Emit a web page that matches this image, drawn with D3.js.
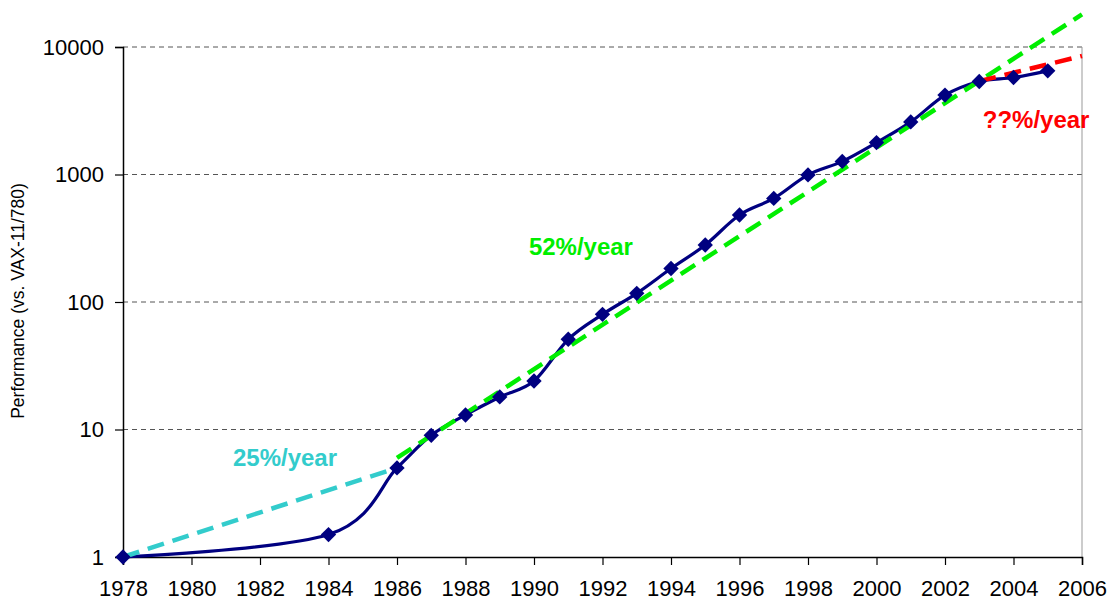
<!DOCTYPE html>
<html>
<head>
<meta charset="utf-8">
<script src="https://cdn.jsdelivr.net/npm/d3@7"></script>
<style>
  body { margin: 0; background: #fff; }
  svg { font-family: "Liberation Sans", Arial, sans-serif; }
  .axis text { font-size: 22px; font-family: "Liberation Sans", Arial, sans-serif; fill: #000; }
</style>
</head>
<body>
<svg id="chart" width="1110" height="603"></svg>
<script>
// performance relative to VAX-11/780
var years = [1978, 1984, 1986, 1987, 1988, 1989, 1990, 1991, 1992, 1993, 1994, 1995,
             1996, 1997, 1998, 1999, 2000, 2001, 2002, 2003, 2004, 2005];
var perf = [1, 1.5, 5, 9, 13, 18, 24, 51, 80, 117, 183, 280,
            481, 649, 993, 1267, 1779, 2584, 4195, 5364, 5764, 6505];

// trend lines: [year, value] end points
var trend25 = [[1978, 1], [1986, 5]];
var trend52 = [[1986, 6], [2006, 18000]];
var trendQQ = [[2003, 5400], [2006, 8500]];

var yTicks = [1, 10, 100, 1000, 10000];
var xTicks = d3.range(1978, 2007, 2);

var svg = d3.select("#chart"),
    margin = {top: 47, right: 28, bottom: 46, left: 123},
    width = +svg.attr("width") - margin.left - margin.right,
    height = +svg.attr("height") - margin.top - margin.bottom;

var x = d3.scaleLinear().domain([1978, 2006]).range([0, width]);
var y = d3.scaleLog().domain([1, 10000]).range([height, 0]);

var g = svg.append("g")
  .attr("transform", "translate(" + margin.left + "," + margin.top + ")");

// grid lines
g.selectAll(".grid")
  .data(yTicks.slice(1))
  .enter().append("line")
  .attr("x1", 0).attr("x2", width)
  .attr("y1", function(d) { return y(d); })
  .attr("y2", function(d) { return y(d); })
  .attr("stroke", "#555")
  .attr("stroke-width", 1)
  .attr("stroke-dasharray", "5,4");

// plot area frame (right side)
g.append("line")
  .attr("x1", width).attr("x2", width)
  .attr("y1", 0).attr("y2", height)
  .attr("stroke", "#999");

// axes
var xAxis = d3.axisBottom(x).tickValues(xTicks).tickFormat(d3.format("d")).tickSizeOuter(0).tickSize(8).tickPadding(15);
var yAxis = d3.axisLeft(y).tickValues(yTicks).tickFormat(d3.format("d")).tickSizeOuter(0).tickSize(8).tickPadding(11);

var gx = g.append("g")
  .attr("class", "axis")
  .attr("transform", "translate(0," + height + ")")
  .call(xAxis);
var gy = g.append("g").attr("class", "axis").call(yAxis);

[gx, gy].forEach(function(a) {
  a.attr("font-size", null).attr("font-family", null);
  a.select(".domain").attr("stroke", "#000").attr("stroke-width", 1.5);
  a.selectAll(".tick line").attr("stroke", "#000").attr("stroke-width", 1.2);
});

// y label
svg.append("text")
  .attr("transform", "translate(24," + 301 + ") rotate(-90)")
  .attr("text-anchor", "middle")
  .style("font-size", "17.5px")
  .attr("fill", "#000")
  .text("Performance (vs. VAX-11/780)");

// trend lines
var trendLine = d3.line()
  .x(function(d) { return x(d[0]); })
  .y(function(d) { return y(d[1]); });

var trends = [
  {pts: trend25, color: "#33CCCC"},
  {pts: trend52, color: "#00EE00"},
  {pts: trendQQ, color: "#FF0000"}
];

// main performance line
var line = d3.line()
  .curve(d3.curveCardinal.tension(0))
  .x(function(d, i) { return x(years[i]); })
  .y(function(d) { return y(d); });

g.append("path")
  .datum(perf)
  .attr("d", line)
  .attr("fill", "none")
  .attr("stroke", "#000080")
  .attr("stroke-width", 3.2);

g.selectAll(".trend")
  .data(trends)
  .enter().append("path")
  .attr("class", "trend")
  .attr("d", function(d) { return trendLine(d.pts); })
  .attr("fill", "none")
  .attr("stroke", function(d) { return d.color; })
  .attr("stroke-width", 4.5)
  .attr("stroke-dasharray", "17,9");

// diamond markers
g.selectAll(".pt")
  .data(perf)
  .enter().append("path")
  .attr("class", "pt")
  .attr("d", d3.symbol().type(d3.symbolDiamond2).size(150))
  .attr("transform", function(d, i) { return "translate(" + x(years[i]) + "," + y(d) + ")"; })
  .attr("fill", "#000080");

// labels
var labels = [
  {t: "25%/year", yr: 1982.73, v: 5.17, color: "#33CCCC"},
  {t: "52%/year", yr: 1991.37, v: 234, color: "#00EE00"},
  {t: "??%/year", yr: 2004.66, v: 2316, color: "#FF0000"}
];
g.selectAll(".lbl")
  .data(labels)
  .enter().append("text")
  .attr("x", function(d) { return x(d.yr); })
  .attr("y", function(d) { return y(d.v); })
  .attr("text-anchor", "middle")
  .attr("fill", function(d) { return d.color; })
  .style("font-size", "24px")
  .style("font-weight", "bold")
  .text(function(d) { return d.t; });
</script>
</body>
</html>
